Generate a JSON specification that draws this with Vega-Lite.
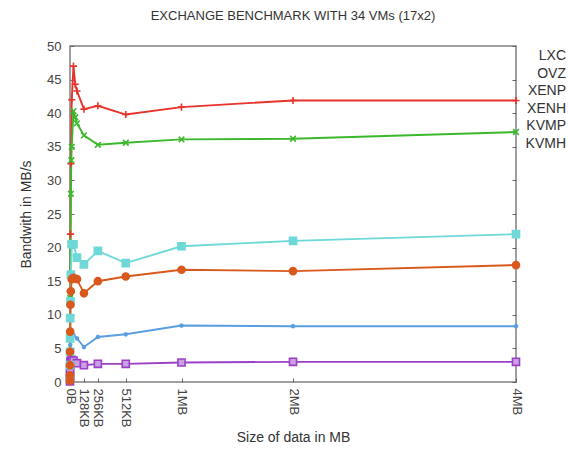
{
  "$schema": "https://vega.github.io/schema/vega-lite/v6.json",
  "autosize": {"type": "none"},
  "padding": {"left": 70, "top": 46, "right": 52, "bottom": 78},
  "width": 446,
  "height": 336,
  "background": "white",
  "title": {"text": "EXCHANGE BENCHMARK WITH 34 VMs (17x2)", "fontSize": 13, "font": "Liberation Sans", "fontWeight": "normal", "color": "#333", "anchor": "middle", "offset": 17},
  "config": {
    "view": {"stroke": "#808080", "strokeWidth": 1.5},
    "axis": {"labelFont": "Liberation Sans", "titleFont": "Liberation Sans", "labelColor": "#444", "titleColor": "#333", "labelFontSize": 13, "titleFontSize": 14, "titleFontWeight": "normal", "grid": false, "domain": false, "tickColor": "#666", "tickWidth": 1},
    "legend": {"labelFont": "Liberation Sans", "labelFontSize": 14, "labelColor": "#333"}
  },
  "data": {"values": [
    {"series": "LXC", "kb": 0.001, "bw": 0.5}, {"series": "LXC", "kb": 0.01, "bw": 2}, {"series": "LXC", "kb": 0.1, "bw": 4.5}, {"series": "LXC", "kb": 1, "bw": 7.5}, {"series": "LXC", "kb": 2, "bw": 13.5}, {"series": "LXC", "kb": 4, "bw": 22}, {"series": "LXC", "kb": 8, "bw": 32.5}, {"series": "LXC", "kb": 16, "bw": 42}, {"series": "LXC", "kb": 32, "bw": 47}, {"series": "LXC", "kb": 48, "bw": 44.3}, {"series": "LXC", "kb": 64, "bw": 43.3}, {"series": "LXC", "kb": 128, "bw": 40.6}, {"series": "LXC", "kb": 256, "bw": 41.1}, {"series": "LXC", "kb": 512, "bw": 39.8}, {"series": "LXC", "kb": 1024, "bw": 40.9}, {"series": "LXC", "kb": 2048, "bw": 41.9}, {"series": "LXC", "kb": 4096, "bw": 41.9},
    {"series": "OVZ", "kb": 0.001, "bw": 0.3}, {"series": "OVZ", "kb": 0.01, "bw": 1.5}, {"series": "OVZ", "kb": 0.1, "bw": 3}, {"series": "OVZ", "kb": 1, "bw": 7.5}, {"series": "OVZ", "kb": 2, "bw": 12.5}, {"series": "OVZ", "kb": 4, "bw": 20.5}, {"series": "OVZ", "kb": 8, "bw": 28}, {"series": "OVZ", "kb": 12, "bw": 33}, {"series": "OVZ", "kb": 16, "bw": 35}, {"series": "OVZ", "kb": 32, "bw": 40.3}, {"series": "OVZ", "kb": 48, "bw": 39.4}, {"series": "OVZ", "kb": 64, "bw": 38.5}, {"series": "OVZ", "kb": 128, "bw": 36.7}, {"series": "OVZ", "kb": 256, "bw": 35.3}, {"series": "OVZ", "kb": 512, "bw": 35.6}, {"series": "OVZ", "kb": 1024, "bw": 36.1}, {"series": "OVZ", "kb": 2048, "bw": 36.2}, {"series": "OVZ", "kb": 4096, "bw": 37.2},
    {"series": "XENP", "kb": 0.001, "bw": 0.2}, {"series": "XENP", "kb": 0.01, "bw": 1}, {"series": "XENP", "kb": 0.1, "bw": 2.5}, {"series": "XENP", "kb": 1, "bw": 4}, {"series": "XENP", "kb": 2, "bw": 5.5}, {"series": "XENP", "kb": 4, "bw": 6.5}, {"series": "XENP", "kb": 8, "bw": 7.3}, {"series": "XENP", "kb": 16, "bw": 7.3}, {"series": "XENP", "kb": 32, "bw": 7}, {"series": "XENP", "kb": 64, "bw": 6.5}, {"series": "XENP", "kb": 128, "bw": 5.2}, {"series": "XENP", "kb": 256, "bw": 6.7}, {"series": "XENP", "kb": 512, "bw": 7.1}, {"series": "XENP", "kb": 1024, "bw": 8.4}, {"series": "XENP", "kb": 2048, "bw": 8.3}, {"series": "XENP", "kb": 4096, "bw": 8.3},
    {"series": "XENH", "kb": 0.001, "bw": 0.1}, {"series": "XENH", "kb": 0.01, "bw": 0.5}, {"series": "XENH", "kb": 0.1, "bw": 1}, {"series": "XENH", "kb": 1, "bw": 1.8}, {"series": "XENH", "kb": 2, "bw": 2.5}, {"series": "XENH", "kb": 4, "bw": 3}, {"series": "XENH", "kb": 8, "bw": 3.2}, {"series": "XENH", "kb": 16, "bw": 3.3}, {"series": "XENH", "kb": 32, "bw": 3.2}, {"series": "XENH", "kb": 64, "bw": 2.8}, {"series": "XENH", "kb": 128, "bw": 2.5}, {"series": "XENH", "kb": 256, "bw": 2.7}, {"series": "XENH", "kb": 512, "bw": 2.7}, {"series": "XENH", "kb": 1024, "bw": 2.9}, {"series": "XENH", "kb": 2048, "bw": 3.0}, {"series": "XENH", "kb": 4096, "bw": 3.0},
    {"series": "KVMP", "kb": 0.001, "bw": 0.5}, {"series": "KVMP", "kb": 0.01, "bw": 2.5}, {"series": "KVMP", "kb": 0.1, "bw": 4.5}, {"series": "KVMP", "kb": 1, "bw": 6.5}, {"series": "KVMP", "kb": 2, "bw": 9.5}, {"series": "KVMP", "kb": 4, "bw": 12}, {"series": "KVMP", "kb": 8, "bw": 16}, {"series": "KVMP", "kb": 16, "bw": 20.5}, {"series": "KVMP", "kb": 32, "bw": 20.5}, {"series": "KVMP", "kb": 64, "bw": 18.5}, {"series": "KVMP", "kb": 128, "bw": 17.5}, {"series": "KVMP", "kb": 256, "bw": 19.5}, {"series": "KVMP", "kb": 512, "bw": 17.7}, {"series": "KVMP", "kb": 1024, "bw": 20.2}, {"series": "KVMP", "kb": 2048, "bw": 21}, {"series": "KVMP", "kb": 4096, "bw": 22},
    {"series": "KVMH", "kb": 0.001, "bw": 0.2}, {"series": "KVMH", "kb": 0.01, "bw": 1}, {"series": "KVMH", "kb": 0.1, "bw": 2.5}, {"series": "KVMH", "kb": 1, "bw": 4.5}, {"series": "KVMH", "kb": 2, "bw": 7.5}, {"series": "KVMH", "kb": 4, "bw": 11.5}, {"series": "KVMH", "kb": 8, "bw": 13.5}, {"series": "KVMH", "kb": 16, "bw": 15.3}, {"series": "KVMH", "kb": 32, "bw": 15.5}, {"series": "KVMH", "kb": 64, "bw": 15.3}, {"series": "KVMH", "kb": 128, "bw": 13.2}, {"series": "KVMH", "kb": 256, "bw": 15}, {"series": "KVMH", "kb": 512, "bw": 15.7}, {"series": "KVMH", "kb": 1024, "bw": 16.7}, {"series": "KVMH", "kb": 2048, "bw": 16.5}, {"series": "KVMH", "kb": 4096, "bw": 17.4}
  ]},
  "layer": [
    {
      "encoding": {
        "x": {"field": "kb", "type": "quantitative", "scale": {"domain": [0, 4096], "nice": false, "zero": false},
          "axis": {"title": "Size of data in MB", "titlePadding": 3, "values": [0, 128, 256, 512, 1024, 2048, 4096], "labelExpr": "datum.value == 0 ? '0B' : datum.value == 128 ? '128KB' : datum.value == 256 ? '256KB' : datum.value == 512 ? '512KB' : datum.value == 1024 ? '1MB' : datum.value == 2048 ? '2MB' : '4MB'", "labelAngle": 90, "labelAlign": "left", "labelBaseline": "middle", "tickSize": -4, "labelPadding": 10, "labelOverlap": false, "labelFlush": false}},
        "y": {"field": "bw", "type": "quantitative", "scale": {"domain": [0, 50], "nice": false},
          "axis": {"title": "Bandwith in MB/s", "titlePadding": 13, "values": [0, 5, 10, 15, 20, 25, 30, 35, 40, 45, 50], "tickSize": -4, "labelPadding": 13, "labelFlush": false}},
        "color": {"field": "series", "type": "nominal",
          "scale": {"domain": ["LXC", "OVZ", "XENP", "XENH", "KVMP", "KVMH"], "range": ["#e8322a", "#3cb82c", "#5a9ee0", "#9b3fc8", "#6fd8d8", "#d9581c"]},
          "legend": {"title": null, "orient": "none", "legendX": 482, "legendY": 3, "symbolOpacity": 0, "symbolSize": 0, "symbolStrokeWidth": 0, "labelAlign": "right", "labelOffset": 0, "rowPadding": 3.6, "padding": 0, "labelLimit": 200}}
      },
      "layer": [
        {"mark": {"type": "line", "strokeWidth": 1.9}},
        {"mark": {"type": "point", "filled": false, "strokeWidth": 1.6, "opacity": 1, "size": 50},
          "encoding": {
            "shape": {"field": "series", "type": "nominal", "legend": null,
              "scale": {"domain": ["LXC", "OVZ", "XENP", "XENH", "KVMP", "KVMH"], "range": ["M-1,0L1,0M0,-1L0,1", "M-0.8,-0.8L0.8,0.8M-0.8,0.8L0.8,-0.8", "M-0.6,0L0.6,0M0,-0.6L0,0.6M-0.45,-0.45L0.45,0.45M-0.45,0.45L0.45,-0.45", "square", "square", "circle"]}},
            "fill": {"field": "series", "type": "nominal", "legend": null,
              "scale": {"domain": ["LXC", "OVZ", "XENP", "XENH", "KVMP", "KVMH"], "range": ["transparent", "transparent", "transparent", "#c9a0e0", "#6fd8d8", "#d9581c"]}}
          }}
      ]
    },
    {"mark": {"type": "rule", "opacity": 0},
      "encoding": {
        "y": {"field": "bw", "type": "quantitative", "scale": {"domain": [0, 50], "nice": false}, "axis": {"orient": "right", "title": null, "labels": false, "values": [0, 5, 10, 15, 20, 25, 30, 35, 40, 45, 50], "tickSize": -4}}
      }}
  ],
  "resolve": {"axis": {"y": "independent"}}
}
